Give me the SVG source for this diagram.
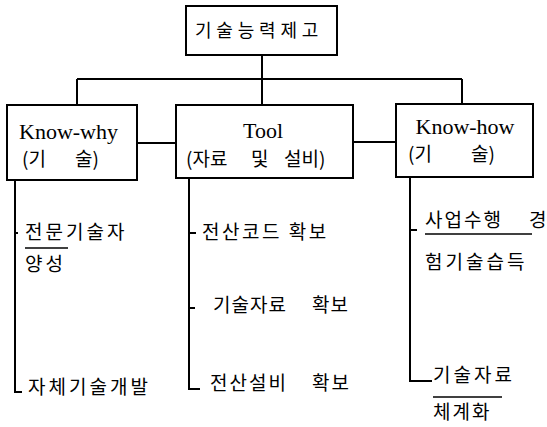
<svg xmlns="http://www.w3.org/2000/svg" width="547" height="427" viewBox="0 0 547 427">
<style>
.box{fill:#fff;stroke:#000;stroke-width:2}
.ln{fill:none;stroke:#000;stroke-width:2}
.ul{fill:none;stroke:#000;stroke-width:1.6}
.ko{font-family:"Noto Sans CJK KR","Noto Sans CJK SC",sans-serif;font-size:19px;fill:#000}
.en{font-family:"Liberation Serif",serif;font-size:22px;fill:#000;text-anchor:middle}
</style>
<rect width="547" height="427" fill="#fff"/>
<g id="connectors">
<path class="ln" d="M262,55 V79 M77,79 H462 M77,79 V105 M262,79 V105 M462,79 V105"/>
<path class="ln" d="M137,143 H176 M353,142 H396"/>
<path class="ln" d="M15,180 V392 H22 M15,233 H18"/>
<path class="ln" d="M189,178 V389 H200 M189,233 H196 M189,308 H195"/>
<path class="ln" d="M410,177 V381 H432 M410,230 H417"/>
</g>
<g id="root">
<rect class="box" x="186" y="6" width="151" height="49"/>
<text class="ko" x="195" y="37" style="font-size:18px;letter-spacing:4.8px">기술능력제고</text>
</g>
<g id="know-why">
<rect class="box" x="7" y="105" width="130" height="75"/>
<text class="en" x="68.5" y="139">Know-why</text>
<text class="ko" y="166"><tspan x="22">(기</tspan><tspan x="75">술)</tspan></text>
</g>
<g id="tool">
<rect class="box" x="176" y="105" width="177" height="73"/>
<text class="en" x="263" y="138">Tool</text>
<text class="ko" y="166"><tspan x="186">(자료</tspan><tspan x="251">및</tspan><tspan x="284">설비)</tspan></text>
</g>
<g id="know-how">
<rect class="box" x="396" y="104" width="137" height="73"/>
<text class="en" x="465" y="134">Know-how</text>
<text class="ko" y="161"><tspan x="408">(기</tspan><tspan x="471">술)</tspan></text>
</g>
<g id="why-items">
<text class="ko" x="25" y="239" style="letter-spacing:3px">전문기술자</text>
<path class="ul" d="M25,248 H68"/>
<text class="ko" x="25" y="271" style="letter-spacing:3px">양성</text>
<text class="ko" x="28" y="394" style="letter-spacing:3px">자체기술개발</text>
</g>
<g id="tool-items">
<text class="ko" x="202" y="239" style="letter-spacing:2.5px">전산코드 확보</text>
<text class="ko" x="213" y="312" style="letter-spacing:1px">기술자료 <tspan x="312">확보</tspan></text>
<text class="ko" x="210" y="390" style="letter-spacing:2px">전산설비 <tspan x="312">확보</tspan></text>
</g>
<g id="how-items">
<text class="ko" x="425" y="227" style="letter-spacing:2px">사업수행 <tspan x="529">경</tspan></text>
<path class="ul" d="M425,234 H532"/>
<text class="ko" x="425" y="269" style="letter-spacing:3px">험기술습득</text>
<text class="ko" x="433" y="382" style="letter-spacing:3px">기술자료</text>
<path class="ul" d="M433,397 H502"/>
<text class="ko" x="433" y="419" style="letter-spacing:2px">체계화</text>
</g>
</svg>
